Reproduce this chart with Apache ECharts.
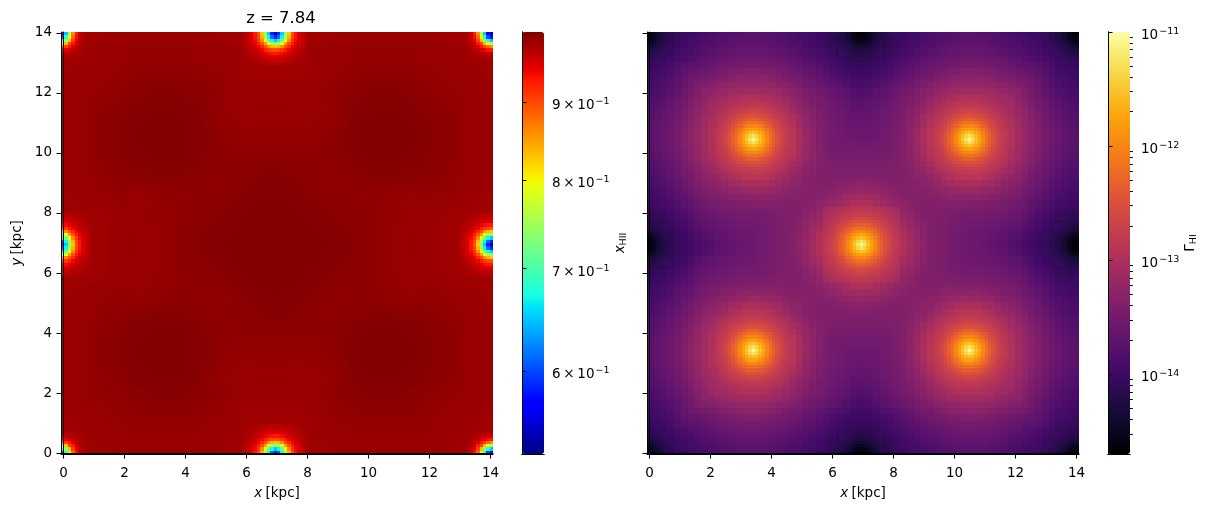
<!DOCTYPE html>
<html>
<head>
<meta charset="utf-8">
<title>Ionisation and photoionisation maps</title>
<script src="https://cdn.jsdelivr.net/npm/echarts@6/dist/echarts.min.js"></script>
<style>
html,body{margin:0;padding:0;background:#fff}
#chart{width:1210px;height:511px}
</style>
</head>
<body>
<div id="chart"></div>
<script>
// The 128x128 maps mirror about cell 63 and about the diagonal, so each one is
// tabulated as a triangle of 2x2-cell blocks (row k holds blocks (a, b) with
// b = k-1 and a = b..31), plus finer patches around the sources and the
// ionised corners and edge notches, indexed by cell offset (larger, smaller).

// Ionised fraction, in thousandths.
const xHIIRows = [
[982,982,982,982,982,982,983,983,984,984,985,985,985,985,985,985,985,985,985,985,985,985,984,984,983,983,982,982,982,982,982,982,982],
[983,983,983,983,983,983,984,985,985,985,985,985,985,985,985,985,985,985,985,985,985,985,985,984,983,983,983,983,983,983,983,983],
[983,983,983,983,984,985,985,985,986,986,986,986,986,986,986,986,986,986,986,986,985,985,985,984,983,983,983,983,983,983,983],
[984,984,984,985,985,986,986,987,987,987,987,987,987,987,987,987,987,987,987,986,986,985,985,984,984,984,984,984,984,984],
[985,985,985,986,987,987,988,988,988,988,988,988,988,988,988,988,988,988,987,987,986,985,984,984,984,984,984,984,984],
[985,986,987,987,988,989,989,989,989,989,989,989,989,989,989,989,989,988,987,987,986,985,983,983,983,983,983,983],
[987,987,988,989,989,990,991,991,991,991,991,991,991,991,990,990,989,989,988,987,985,984,982,982,982,982,982],
[988,989,989,990,991,991,992,992,992,992,992,992,991,991,991,990,989,989,987,986,985,983,983,983,983,983],
[989,990,991,991,992,993,993,993,993,993,993,993,992,991,991,990,989,988,987,985,985,985,985,985,985],
[991,991,992,993,994,995,995,995,995,995,994,993,992,991,991,990,989,987,986,985,985,985,985,985],
[992,993,994,995,995,996,996,996,995,995,994,993,992,991,991,989,988,987,986,986,986,986,986],
[995,996,997,997,997,997,997,997,997,996,995,993,991,989,987,986,986,986,986,987,987,987],
[997,997,997,998,998,998,997,997,997,995,993,991,989,988,987,986,985,985,987,987,987],
[997,998,998,998,998,998,997,997,995,994,992,990,989,988,987,987,987,986,986,986],
[998,998,998,998,998,998,997,996,994,992,990,989,989,988,988,987,987,987,987],
[998,998,998,998,998,997,996,995,993,991,990,989,989,989,988,988,988,988],
[998,998,998,998,997,996,995,993,991,991,990,989,989,989,989,989,989],
[998,998,998,997,996,995,993,991,991,990,990,989,989,989,989,989],
[998,998,997,996,995,993,992,991,991,991,991,991,991,991,991],
[997,997,995,994,993,992,991,991,991,991,992,992,992,992],
[996,995,993,993,992,991,991,992,992,993,993,993,993],
[995,993,992,991,991,992,992,993,993,994,995,995],
[992,991,991,991,992,993,993,994,995,996,996],
[991,991,991,992,993,994,995,996,997,997],
[991,991,992,993,995,996,997,997,997],
[992,993,995,996,997,997,997,998],
[995,996,997,997,998,998,998],
[997,997,998,998,998,998],
[998,998,998,998,998],
[998,998,998,998],
[998,998,998],
[998,998],
[998]
];
const xHIICornerPatch = [
[540],
[575,600],
[650,680,740],
[760,790,830,900],
[860,880,905,930,950],
[930,935,945,955,965,972],
[960,962,965,970,975,978,980],
[975,975,976,978,980,981,982,982]
];
const xHIIEdgePatch = [
[550],
[585,610],
[650,670,720],
[740,755,790,850],
[825,835,860,895,920],
[895,900,912,925,942,951],
[930,932,938,945,956,962,968],
[950,951,953,958,963,968,972,975],
[962,963,964,966,970,973,976,978,980],
[970,970,971,973,975,977,979,980,981,982]
];

// Photoionisation rate, as 100 * (log10(rate) + 15).
const gammaHIRows = [
[32,42,65,78,86,93,97,100,104,108,111,114,117,120,122,124,125,125,124,122,120,117,114,111,108,104,100,97,93,86,78,65,42],
[46,66,80,88,95,99,103,107,111,114,117,120,123,125,127,128,127,125,123,120,117,114,111,107,103,99,95,88,80,66,46,42],
[72,84,92,98,103,107,111,115,118,122,125,128,130,132,133,132,130,128,125,122,118,115,111,107,103,98,92,84,74,68,66],
[88,95,101,106,110,115,120,124,128,131,134,136,138,138,138,136,134,131,128,124,120,115,110,106,101,95,88,82,79,78],
[103,108,112,117,122,126,130,134,137,140,142,143,144,143,142,140,137,134,130,126,122,117,112,107,102,96,91,88,86],
[119,122,126,129,133,137,141,144,147,149,150,150,150,149,147,144,141,137,133,129,125,120,114,108,103,98,95,93],
[130,134,138,142,146,149,153,156,159,161,162,161,159,156,153,149,145,141,136,131,126,120,112,107,103,99,97],
[143,147,151,155,159,162,165,168,170,170,170,168,165,161,157,152,148,143,138,133,127,121,115,110,105,102],
[156,160,164,168,172,175,178,180,180,180,178,175,171,167,162,156,151,146,141,136,130,125,119,113,109],
[170,174,178,182,186,189,191,191,191,189,186,182,176,170,164,157,151,146,141,136,131,126,120,115],
[182,188,190,196,200,204,205,204,200,196,190,184,176,169,162,156,150,145,140,135,130,124,120],
[192,196,200,207,211,214,213,211,207,200,190,182,174,165,158,153,148,143,138,134,130,126],
[226,234,242,248,250,248,240,228,217,204,190,180,171,163,156,150,145,141,137,133,131],
[256,270,280,283,280,265,250,232,219,199,188,176,166,158,152,147,143,139,136,135],
[290,310,318,310,290,263,240,223,207,191,178,168,160,154,149,145,142,139,138],
[338,352,338,310,277,247,228,212,197,183,172,162,155,150,147,144,142,141],
[395,352,318,283,250,230,213,198,184,172,162,155,150,147,144,142,141],
[338,310,277,247,228,212,197,184,173,164,157,152,149,147,146,146],
[290,263,242,226,210,196,183,173,163,157,153,150,148,148,148],
[256,230,219,205,192,180,172,164,158,155,153,153,153,153],
[219,208,195,186,176,168,163,160,158,157,157,157,157],
[195,187,179,172,166,162,160,159,158,158,158,158],
[178,172,168,165,162,161,160,160,160,161,162],
[172,166,163,161,161,162,165,167,169,170],
[167,164,163,165,168,172,176,179,180],
[163,167,170,176,181,186,190,191],
[172,176,183,190,195,203,205],
[192,198,204,208,212,214],
[219,230,240,247,250],
[245,263,277,283],
[290,310,318],
[338,352],
[395]
];
const gammaSourcePatch = [
[392],
[374,362],
[348,340,328],
[326,322,312,298],
[304,301,294,282,272],
[282,281,276,270,260,250],
[267,266,262,255,248,242,233],
[250,250,247,244,238,231,226,221],
[239,238,235,232,229,225,220,217,212],
[228,228,226,224,221,218,215,211,207,203],
[220,220,218,217,215,213,210,206,203,199,195]
];
const gammaHolePatch = [
[32],
[36,38],
[42,44,48],
[50,52,58,66],
[64,65,68,74,80],
[72,73,75,79,84,90],
[78,79,81,84,88,93,98]
];

const cellCount = 128;
const sourceCells = [[31, 31], [63, 63]];
const cornerCells = [[-1, -1]];
const edgeCells = [[63, -1], [-1, 63]];
const positionTicks = [0, 2, 4, 6, 8, 10, 12, 14];
const xHIILabelled = [0.6, 0.7, 0.8, 0.9];
const xHIIRange = [0.5295, 0.9999];
const gammaRange = [2e-15, 1e-11];
const gammaDecades = [-14, -13, -12, -11];
const gammaMinor = [3e-15,4e-15,5e-15,6e-15,7e-15,8e-15,9e-15,
  2e-14,3e-14,4e-14,5e-14,6e-14,7e-14,8e-14,9e-14,
  2e-13,3e-13,4e-13,5e-13,6e-13,7e-13,8e-13,9e-13,
  2e-12,3e-12,4e-12,5e-12,6e-12,7e-12,8e-12,9e-12];

// Colour maps, as evenly spaced stops for the visual mapping.
function lerpStops(stops, t) {
  for (let k = 1; k < stops.length; k++) {
    if (t <= stops[k][0]) {
      const a = stops[k - 1], b = stops[k];
      return a[1] + (b[1] - a[1]) * (t - a[0]) / (b[0] - a[0]);
    }
  }
  return stops[stops.length - 1][1];
}
const jetR = [[0,0],[0.35,0],[0.66,1],[0.89,1],[1,0.5]];
const jetG = [[0,0],[0.125,0],[0.375,1],[0.64,1],[0.91,0],[1,0]];
const jetB = [[0,0.5],[0.11,1],[0.34,1],[0.65,0],[1,0]];
const jetColors = [];
for (let k = 0; k <= 128; k++) {
  const t = k / 128;
  const c = [jetR, jetG, jetB].map(s => Math.round(255 * lerpStops(s, t)));
  jetColors.push('rgb(' + c.join(',') + ')');
}
const infernoColors = ['#000004','#160b39','#420a68','#6a176e','#932667','#bc3754','#dd513a','#f37819','#fca50a','#f6d746','#fcffa4'];

// Read one cell: a fine patch wins over the block table when the cell lies inside one.
function fold(i) { return i <= 63 ? i : 126 - i; }
function patchValue(patch, centres, p, q) {
  for (const c of centres) {
    const du = Math.abs(p - c[0]), dv = Math.abs(q - c[1]);
    const u = Math.max(du, dv), v = Math.min(du, dv);
    if (u < patch.length) return patch[u][v];
  }
  return null;
}
function blockValue(rows, p, q) {
  const a = Math.floor(p / 2), b = Math.floor(q / 2);
  const lo = Math.min(a, b), hi = Math.max(a, b);
  return rows[lo + 1][hi - lo];
}
function mapData(rows, patches, toValue) {
  const out = [];
  for (let j = 0; j < cellCount; j++) {
    for (let i = 0; i < cellCount; i++) {
      const p = fold(i), q = fold(j);
      let v = null;
      for (const [patch, centres] of patches) {
        v = patchValue(patch, centres, p, q);
        if (v !== null) break;
      }
      if (v === null) v = blockValue(rows, p, q);
      out.push([i, j, toValue(v)]);
    }
  }
  return out;
}
const xHIIData = mapData(xHIIRows,
  [[xHIICornerPatch, cornerCells], [xHIIEdgePatch, edgeCells]],
  v => Math.log10(v / 1000));
const gammaData = mapData(gammaHIRows,
  [[gammaSourcePatch, sourceCells], [gammaHolePatch, cornerCells], [gammaHolePatch, edgeCells]],
  v => v / 100 - 15);
const cats = Array.from({length: cellCount}, (_, k) => k);

const FONT = 'DejaVu Sans';
const INK = '#000';
const LINE = {lineStyle: {color: INK, width: 1}};
const nameRich = {
  i: {fontFamily: FONT, fontSize: 13.5, fontStyle: 'italic', color: INK},
  r: {fontFamily: FONT, fontSize: 13.5, color: INK},
  sub: {fontFamily: FONT, fontSize: 9.5, color: INK, padding: [7, 0, 0, 0]},
  g: {fontFamily: FONT, fontSize: 13.5, color: INK}
};

function hiddenCat(grid) {
  return {type: 'category', gridIndex: grid, data: cats, show: false};
}
function spineOnly(grid, position, min, max) {
  return {type: 'value', gridIndex: grid, position, min, max, z: 6,
    axisLine: {show: true, ...LINE}, axisTick: {show: false},
    axisLabel: {show: false}, splitLine: {show: false}};
}
function posAxis(grid, position, min, max, labelled, name, nameGap, margin) {
  return {type: 'value', gridIndex: grid, position, min, max, z: 6,
    name, nameLocation: 'middle', nameGap,
    nameTextStyle: {rich: nameRich},
    axisLine: {show: true, onZero: false, ...LINE},
    axisTick: {show: true, length: 4.5, customValues: positionTicks, ...LINE},
    axisLabel: {show: labelled, customValues: positionTicks, fontFamily: FONT, fontSize: 13.5, color: INK, margin, hideOverlap: false, showMinLabel: true, showMaxLabel: true},
    splitLine: {show: false}};
}

const expRich = {
  m: {fontFamily: FONT, fontSize: 13.5, color: INK},
  s: {fontFamily: FONT, fontSize: 9.5, color: INK, padding: [0, 0, 8, 1]}
};
function barAxis(grid, range, ticks, labels, name, nameGap, margin) {
  return {type: 'value', gridIndex: grid, position: 'right', min: range[0], max: range[1], z: 6,
    name, nameLocation: 'middle', nameGap, nameRotate: 90,
    nameTextStyle: {rich: nameRich},
    axisLine: {show: true, ...LINE},
    axisTick: {show: true, length: 4.5, customValues: ticks, ...LINE},
    axisLabel: {show: true, customValues: ticks, margin, rich: expRich, hideOverlap: false,
      padding: [7, 0, 0, 0], showMinLabel: true, showMaxLabel: true, formatter: labels},
    splitLine: {show: false}};
}
function minorAxis(grid, range, ticks) {
  return {type: 'value', gridIndex: grid, position: 'right', min: range[0], max: range[1], z: 6,
    axisLine: {show: false},
    axisTick: {show: true, length: 2.8, customValues: ticks, ...LINE},
    axisLabel: {show: false}, splitLine: {show: false}};
}

// Cells are snapped to whole pixels so neighbours never leave a seam.
function renderCell(params, api) {
  const c = api.coord([api.value(0), api.value(1)]);
  const s = api.size([1, 1]);
  const x0 = Math.round(c[0] - s[0] / 2), x1 = Math.round(c[0] + s[0] / 2);
  const y0 = Math.round(c[1] - s[1] / 2), y1 = Math.round(c[1] + s[1] / 2);
  return {type: 'rect', shape: {x: x0, y: y0, width: x1 - x0, height: y1 - y0},
    style: {fill: api.visual('color')}};
}

const xBar = xHIIRange.map(Math.log10);
const gBar = gammaRange.map(Math.log10);
const xBarTicks = xHIILabelled.map(Math.log10);
const gMinorTicks = gammaMinor.map(Math.log10);

const PX = [-0.08, 14.08];
const PY = [-0.033, 14.033];

const option = {
  animation: false,
  backgroundColor: '#fff',
  title: {text: 'z = 7.84', left: 276, top: 5, textAlign: 'center',
    textStyle: {fontFamily: FONT, fontSize: 16.5, fontWeight: 'normal', color: INK}},
  grid: [
    {left: 61, top: 32, width: 432, height: 422, show: false},
    {left: 647, top: 32, width: 432, height: 422, show: false},
    {left: 522, top: 32, width: 22, height: 422, show: false},
    {left: 1108, top: 32, width: 22, height: 422, show: false}
  ],
  xAxis: [
    hiddenCat(0), hiddenCat(1),
    posAxis(0, 'bottom', PX[0], PX[1], true, '{i|x} {r|[kpc]}', 32, 12),
    posAxis(1, 'bottom', PX[0], PX[1], true, '{i|x} {r|[kpc]}', 32, 12),
    spineOnly(0, 'top', PX[0], PX[1]),
    spineOnly(1, 'top', PX[0], PX[1]),
    spineOnly(2, 'top', 0, 1),
    spineOnly(2, 'bottom', 0, 1),
    spineOnly(3, 'top', 0, 1),
    spineOnly(3, 'bottom', 0, 1)
  ],
  yAxis: [
    hiddenCat(0), hiddenCat(1),
    posAxis(0, 'left', PY[0], PY[1], true, '{i|y} {r|[kpc]}', 37, 9),
    posAxis(1, 'left', PY[0], PY[1], false, '', 0, 9),
    spineOnly(0, 'right', PY[0], PY[1]),
    spineOnly(1, 'right', PY[0], PY[1]),
    spineOnly(2, 'left', 0, 1),
    spineOnly(3, 'left', 0, 1),
    barAxis(2, xBar, xBarTicks, v => '{m|' + Math.round(Math.pow(10, v) * 10) + '\u2009×\u200910}{s|−1}', '{i|x}{sub|HII}', 63, 8),
    barAxis(3, gBar, gammaDecades, v => '{m|10}{s|−' + Math.abs(Math.round(v)) + '}', '{g|Γ}{sub|HI}', 52, 11),
    minorAxis(3, gBar, gMinorTicks)
  ],
  visualMap: [
    {type: 'continuous', seriesIndex: 0, dimension: 2, min: xBar[0], max: xBar[1],
      left: 522, top: 32, itemWidth: 22, itemHeight: 422, padding: 0, calculable: false,
      showLabel: false, inRange: {color: jetColors}, text: null},
    {type: 'continuous', seriesIndex: 1, dimension: 2, min: gBar[0], max: gBar[1],
      left: 1108, top: 32, itemWidth: 22, itemHeight: 422, padding: 0, calculable: false,
      showLabel: false, inRange: {color: infernoColors}, text: null}
  ],
  series: [
    {type: 'custom', renderItem: renderCell, xAxisIndex: 0, yAxisIndex: 0, data: xHIIData,
      encode: {x: 0, y: 1}, z: 1, silent: true, progressive: 0},
    {type: 'custom', renderItem: renderCell, xAxisIndex: 1, yAxisIndex: 1, data: gammaData,
      encode: {x: 0, y: 1}, z: 1, silent: true, progressive: 0}
  ]
};

const chart = echarts.init(document.getElementById('chart'), null, {renderer: 'canvas'});
chart.setOption(option);
</script>
</body>
</html>
